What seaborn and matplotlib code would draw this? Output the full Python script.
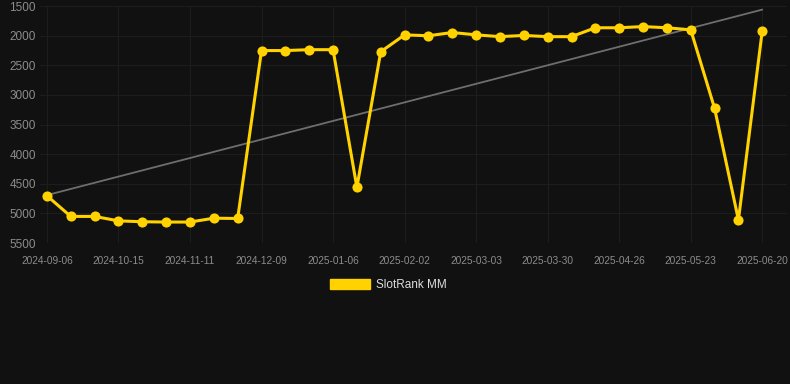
import numpy as np
import pandas as pd
import matplotlib
matplotlib.use("Agg")
import matplotlib.pyplot as plt
import seaborn as sns
from matplotlib.patches import Patch

# rank per snapshot (lower is better, axis is inverted)
rank_values = [4700, 5050, 5050, 5125, 5140, 5145, 5145, 5080, 5085,
               2250, 2250, 2235, 2235, 4560, 2270, 1985, 2000, 1945,
               1985, 2015, 1995, 2015, 2015, 1865, 1865, 1845, 1865,
               1900, 3225, 5110, 1915]
tick_labels = ["2024-09-06", "2024-10-15", "2024-11-11", "2024-12-09",
               "2025-01-06", "2025-02-02", "2025-03-03", "2025-03-30",
               "2025-04-26", "2025-05-23", "2025-06-20"]
y_ticks = [1500, 2000, 2500, 3000, 3500, 4000, 4500, 5000, 5500]
series_name = "SlotRank MM"

BG = "#111111"
GOLD = "#ffd200"
GRID = "#1d1d1d"
TXT = "#8c8c8c"

sns.set_style("dark", {"axes.facecolor": BG, "figure.facecolor": BG})
plt.rcParams["font.family"] = ["Liberation Sans", "DejaVu Sans"]

df = pd.DataFrame({"idx": np.arange(len(rank_values)), "rank": rank_values})
coef = np.polyfit(df["idx"], df["rank"], 1)
df["trend"] = np.polyval(coef, df["idx"])

fig = plt.figure(figsize=(7.9, 3.84), dpi=100, facecolor=BG)
ax = fig.add_axes([0.0506, 0.367, 0.946, 0.617])
ax.set_facecolor(BG)

sns.lineplot(data=df, x="idx", y="trend", ax=ax, color="#6e6e6e", linewidth=1.3, zorder=2)
sns.lineplot(data=df, x="idx", y="rank", ax=ax, color=GOLD, linewidth=2.2,
             marker="o", markersize=7.3, markeredgewidth=0, zorder=3)

ax.set_ylim(5500, 1500)
ax.set_xlim(-0.29, len(rank_values) - 1 + 1.05)
ax.set_yticks(y_ticks)
ax.set_xticks(np.arange(0, len(rank_values), 3))
ax.set_xticklabels(tick_labels)
ax.tick_params(axis="y", labelsize=8.5, colors=TXT, length=0, pad=3)
ax.tick_params(axis="x", labelsize=7.3, colors=TXT, length=0, pad=9)
ax.set_xlabel("")
ax.set_ylabel("")
ax.grid(True, color=GRID, linewidth=0.8)
for spine in ax.spines.values():
    spine.set_visible(False)

handle = Patch(facecolor=GOLD, edgecolor=GOLD)
fig.legend([handle], [series_name], loc="center", bbox_to_anchor=(0.492, 1 - 285 / 384),
           frameon=False, fontsize=8.5, labelcolor="#dddddd",
           handlelength=3.4, handleheight=0.85, handletextpad=0.5)

fig.savefig("out.png", dpi=100, facecolor=BG)
